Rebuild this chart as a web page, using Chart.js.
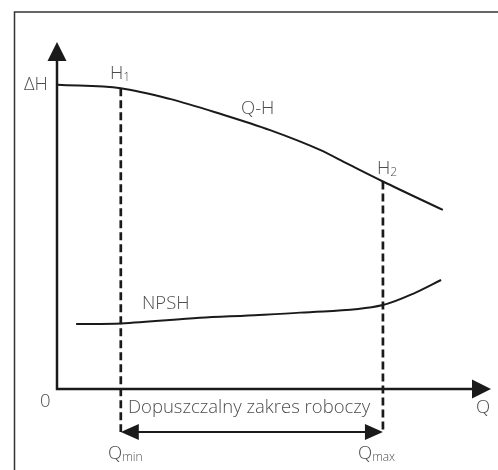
<!DOCTYPE html>
<html>
<head>
<meta charset="utf-8">
<script src="https://cdn.jsdelivr.net/npm/chart.js@4/dist/chart.umd.min.js"></script>
<style>
    html, body { margin: 0; padding: 0; background: #fff; }
    #wrap { width: 498px; height: 470px; }
</style>
</head>
<body>
<div id="wrap"><canvas id="chart" width="498" height="470"></canvas></div>
<script>
// pump curve Q-H
const qhFlow = [0.2, 14.7, 26.0, 37.6, 49.1, 60.6, 67.1, 75.1, 88.9];
const qhHead = [87.7, 86.7, 83.6, 79.3, 74.6, 68.9, 64.8, 59.8, 51.6];

// NPSH curve
const npshFlow = [4.4, 14.7, 32.9, 44.0, 56.0, 75.1, 82.5, 88.5];
const npshHead = [18.7, 18.9, 20.5, 21.2, 22.0, 24.2, 27.7, 31.4];

// working range limits
const qMin = 14.7;
const qMax = 75.1;
const rangeBottom = -12.4;

const textColor = '#4d4d4d';
const lineColor = '#1a1a1a';
const fontFamily = '"Open Sans", "Noto Sans", sans-serif';

function pts(xs, ys) {
    return xs.map((x, i) => ({ x: x, y: ys[i] }));
}

function headAt(q) {
    let i = qhFlow.indexOf(q);
    return i >= 0 ? qhHead[i] : 0;
}

function arrowHead(ctx, tipX, tipY, dir, len, half) {
    ctx.beginPath();
    if (dir === 'up') {
        ctx.moveTo(tipX, tipY);
        ctx.lineTo(tipX - half, tipY + len);
        ctx.lineTo(tipX + half, tipY + len);
    } else if (dir === 'right') {
        ctx.moveTo(tipX, tipY);
        ctx.lineTo(tipX - len, tipY - half);
        ctx.lineTo(tipX - len, tipY + half);
    } else {
        ctx.moveTo(tipX, tipY);
        ctx.lineTo(tipX + len, tipY - half);
        ctx.lineTo(tipX + len, tipY + half);
    }
    ctx.closePath();
    ctx.fill();
}

function label(ctx, text, sub, x, y, size) {
    ctx.font = '300 ' + size + 'px ' + fontFamily;
    ctx.fillText(text, x, y);
    if (sub) {
        let w = ctx.measureText(text).width;
        ctx.font = '300 ' + Math.round(size * 0.66) + 'px ' + fontFamily;
        ctx.fillText(sub, x + w, y + 2);
    }
}

const diagram = {
    id: 'diagram',
    beforeDatasetsDraw(chart) {
        const ctx = chart.ctx;
        const xs = chart.scales.x;
        const ys = chart.scales.y;
        const x0 = xs.getPixelForValue(0);
        const y0 = ys.getPixelForValue(0);
        const xEnd = xs.getPixelForValue(100);
        const yEnd = ys.getPixelForValue(100);

        ctx.save();
        // frame
        ctx.strokeStyle = '#333';
        ctx.lineWidth = 1.5;
        ctx.beginPath();
        ctx.moveTo(14.5, 480);
        ctx.lineTo(14.5, 12);
        ctx.lineTo(510, 12);
        ctx.stroke();

        // axes
        ctx.strokeStyle = lineColor;
        ctx.fillStyle = lineColor;
        ctx.lineWidth = 2.5;
        ctx.beginPath();
        ctx.moveTo(x0, yEnd + 10);
        ctx.lineTo(x0, y0);
        ctx.lineTo(xEnd - 10, y0);
        ctx.stroke();
        arrowHead(ctx, x0, yEnd, 'up', 19, 9.5);
        arrowHead(ctx, xEnd, y0, 'right', 19, 9.5);

        // working range arrow
        const ra = ys.getPixelForValue(rangeBottom);
        const ax1 = xs.getPixelForValue(qMin);
        const ax2 = xs.getPixelForValue(qMax);
        ctx.lineWidth = 2;
        ctx.beginPath();
        ctx.moveTo(ax1 + 10, ra);
        ctx.lineTo(ax2 - 10, ra);
        ctx.stroke();
        arrowHead(ctx, ax1, ra, 'left', 18, 8);
        arrowHead(ctx, ax2, ra, 'right', 18, 8);

        // texts
        ctx.fillStyle = textColor;
        ctx.textBaseline = 'alphabetic';
        ctx.textAlign = 'left';
        const fs = 18.5;
        label(ctx, 'ΔH', '', 24, 90, fs);
        label(ctx, 'H', '1', 110, 79, fs);
        label(ctx, 'Q-H', '', 241, 114, fs);
        label(ctx, 'H', '2', 377, 174, fs);
        label(ctx, 'NPSH', '', 142, 309, fs);
        label(ctx, '0', '', 40, 407, fs);
        label(ctx, 'Dopuszczalny zakres roboczy', '', 128, 413, fs);
        label(ctx, 'Q', '', 476, 413, fs);
        label(ctx, 'Q', 'min', 108, 459, fs);
        label(ctx, 'Q', 'max', 358, 459, fs);
        ctx.restore();
    }
};

const dashed = {
    borderColor: lineColor,
    borderWidth: 2.7,
    borderDash: [8, 4],
    pointRadius: 0,
    tension: 0
};

new Chart(document.getElementById('chart'), {
    type: 'line',
    data: {
        datasets: [
            {
                label: 'Q-H',
                data: pts(qhFlow, qhHead),
                borderColor: lineColor,
                borderWidth: 2,
                pointRadius: 0,
                cubicInterpolationMode: 'monotone'
            },
            {
                label: 'NPSH',
                data: pts(npshFlow, npshHead),
                borderColor: lineColor,
                borderWidth: 2,
                pointRadius: 0,
                cubicInterpolationMode: 'monotone'
            },
            Object.assign({ label: 'Qmin', data: [{ x: qMin, y: headAt(qMin) }, { x: qMin, y: rangeBottom }] }, dashed),
            Object.assign({ label: 'Qmax', data: [{ x: qMax, y: headAt(qMax) }, { x: qMax, y: rangeBottom }] }, dashed)
        ]
    },
    options: {
        responsive: false,
        animation: false,
        clip: false,
        layout: { padding: { left: 57, right: 7, top: 42, bottom: 29 } },
        plugins: { legend: { display: false }, tooltip: { enabled: false } },
        scales: {
            x: { type: 'linear', min: 0, max: 100, display: false },
            y: { type: 'linear', min: -15, max: 100, display: false }
        }
    },
    plugins: [diagram]
});
</script>
</body>
</html>
